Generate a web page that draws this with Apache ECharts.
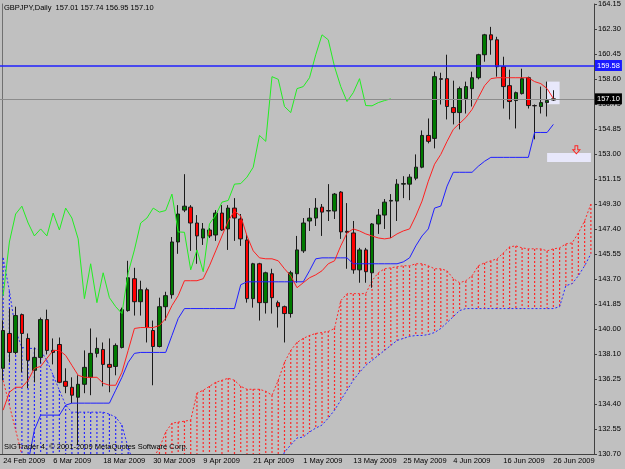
<!DOCTYPE html>
<html>
<head>
<meta charset="utf-8">
<script src="https://cdn.jsdelivr.net/npm/echarts@6/dist/echarts.min.js"></script>
<style>
html, body { margin: 0; padding: 0; background: #c0c0c0; }
#chart { width: 625px; height: 469px; }
</style>
</head>
<body>
<div id="chart"></div>
<script>
// GBPJPY daily, 24 Feb 2009 - 26 Jun 2009 (+6 empty days for the shifted kumo)
var symbolName = "GBPJPY,Daily";
var months = [
  ["Feb", [24, 25, 26, 27]],
  ["Mar", [2, 3, 4, 5, 6, 9, 10, 11, 12, 13, 16, 17, 18, 19, 20, 23, 24, 25, 26, 27, 30, 31]],
  ["Apr", [1, 2, 3, 6, 7, 8, 9, 10, 13, 14, 15, 16, 17, 20, 21, 22, 23, 24, 27, 28, 29, 30]],
  ["May", [1, 4, 5, 6, 7, 8, 11, 12, 13, 14, 15, 18, 19, 20, 21, 22, 25, 26, 27, 28, 29]],
  ["Jun", [1, 2, 3, 4, 5, 8, 9, 10, 11, 12, 15, 16, 17, 18, 19, 22, 23, 24, 25, 26, 29, 30]],
  ["Jul", [1, 2, 3, 6]]
];
var dates = [];
months.forEach(function (m) {
  m[1].forEach(function (d) { dates.push(d + " " + m[0] + " 2009"); });
});

var opens = [137.07, 139.66, 138.25, 141.06, 139.29, 136.92, 137.88, 140.69, 138.40, 138.84,
  136.10, 135.66, 134.92, 135.88, 136.40, 138.18, 138.47, 137.36, 137.21, 138.62,
  141.36, 143.73, 142.02, 142.91, 139.88, 138.69, 141.65, 142.54, 146.46, 148.83,
  149.05, 147.87, 146.76, 147.35, 146.98, 148.61, 147.43, 148.98, 148.17, 146.61,
  142.25, 144.84, 141.95, 144.10, 141.95, 141.65, 141.14, 144.10, 145.80, 148.02,
  148.24, 149.05, 148.76, 148.76, 150.17, 147.25, 147.13, 144.39, 145.87, 144.17,
  147.80, 148.46, 149.50, 149.50, 150.76, 150.76, 151.20, 152.02, 154.38, 154.16,
  158.60, 158.60, 156.45, 156.08, 157.12, 157.86, 158.67, 160.38, 161.86, 161.49,
  159.49, 158.08, 156.97, 157.49, 158.67, 156.60, 156.53, 156.82, 157.01];
var closes = [139.88, 138.25, 140.99, 139.66, 137.66, 137.88, 140.69, 138.40, 138.25, 136.03,
  135.73, 135.07, 135.88, 137.14, 138.18, 138.55, 137.36, 137.14, 138.77, 141.43,
  143.80, 142.02, 142.91, 140.10, 138.69, 141.65, 142.47, 146.46, 148.54, 149.12,
  147.87, 146.91, 147.43, 146.91, 148.61, 147.35, 148.98, 148.24, 146.69, 142.25,
  144.84, 141.95, 144.17, 142.32, 141.65, 141.14, 144.17, 145.87, 147.87, 148.24,
  148.98, 148.68, 148.80, 150.02, 147.21, 147.18, 144.39, 145.87, 144.25, 147.80,
  148.46, 149.42, 149.55, 150.76, 150.80, 151.28, 152.02, 154.38, 153.94, 158.75,
  158.55, 156.53, 156.08, 157.86, 158.01, 158.67, 160.38, 161.86, 161.49, 159.49,
  158.01, 156.90, 157.56, 158.60, 156.60, 156.58, 156.82, 156.97, 157.10];
var highs = [140.62, 141.50, 141.65, 141.14, 139.66, 138.62, 140.84, 141.43, 139.29, 139.36,
  137.07, 136.40, 136.55, 138.40, 140.03, 139.36, 138.99, 139.29, 138.92, 141.58,
  145.06, 144.54, 143.58, 143.06, 140.62, 142.32, 142.76, 146.83, 149.20, 151.50,
  149.20, 148.46, 147.87, 147.50, 148.83, 149.20, 149.20, 149.72, 148.54, 147.06,
  144.91, 144.91, 144.25, 144.47, 142.10, 141.73, 144.32, 146.91, 148.24, 148.98,
  149.72, 149.28, 150.76, 150.10, 150.24, 149.35, 148.02, 146.02, 146.02, 147.87,
  148.91, 149.65, 150.02, 151.13, 151.35, 151.50, 152.97, 154.75, 155.64, 159.12,
  159.04, 160.38, 158.45, 158.01, 158.38, 159.12, 160.45, 161.93, 162.45, 161.71,
  160.23, 159.27, 157.64, 159.34, 158.75, 156.68, 158.01, 158.38, 157.74];
var lows = [136.18, 137.51, 138.10, 136.77, 135.59, 136.03, 137.44, 138.10, 137.36, 135.96,
  135.22, 134.48, 131.37, 135.22, 135.07, 137.88, 135.73, 135.29, 136.55, 138.55,
  141.28, 140.99, 140.99, 138.99, 135.81, 138.62, 140.62, 142.25, 145.58, 148.68,
  145.80, 144.84, 146.24, 146.76, 146.54, 147.28, 145.87, 146.54, 146.17, 141.95,
  141.58, 140.62, 141.14, 141.14, 140.10, 138.99, 140.84, 143.43, 145.65, 147.28,
  147.65, 146.91, 148.02, 148.17, 146.69, 144.47, 144.10, 143.43, 143.43, 143.06,
  147.06, 147.43, 146.76, 148.02, 149.72, 149.57, 151.05, 151.94, 153.79, 153.42,
  156.68, 155.57, 155.20, 154.83, 156.01, 156.53, 158.55, 159.86, 160.38, 158.75,
  156.38, 155.57, 154.90, 157.42, 156.38, 154.09, 156.01, 155.79, 156.95];

// Ichimoku lines
var tenkan = [133.96, 135.29, 135.66, 135.66, 136.18, 137.07, 137.21, 137.81, 138.40, 138.40,
  138.03, 137.29, 136.55, 136.40, 136.40, 136.40, 135.96, 135.81, 135.81, 136.77,
  138.40, 140.03, 140.10, 140.10, 140.10, 140.25, 140.77, 141.73, 142.47, 143.58,
  143.58, 143.58, 143.73, 144.69, 145.80, 146.91, 148.02, 148.76, 148.39, 146.91,
  145.80, 145.28, 145.21, 145.21, 145.06, 144.47, 143.95, 143.06, 143.43, 143.80,
  144.02, 144.32, 144.84, 145.06, 146.17, 147.13, 147.43, 147.28, 147.06, 146.91,
  146.76, 146.69, 146.76, 147.06, 147.28, 147.43, 148.39, 149.50, 150.98, 152.24,
  152.97, 153.94, 154.83, 155.27, 155.71, 156.31, 157.19, 158.08, 158.60, 158.67,
  158.67, 158.67, 158.67, 158.67, 158.67, 158.38, 158.23, 157.86, 157.12];
var kijun = [130.10, 130.10, 130.10, 130.10, 130.10, 132.48, 133.59, 133.59, 133.59, 133.59,
  134.33, 134.48, 134.48, 134.48, 134.48, 134.48, 134.48, 134.48, 135.44, 136.40,
  137.51, 138.18, 138.25, 138.25, 138.25, 138.25, 138.25, 139.51, 140.77, 141.51,
  141.51, 141.51, 141.51, 141.51, 141.51, 141.51, 141.51, 141.51, 143.28, 143.50,
  143.50, 143.50, 143.50, 143.50, 143.50, 143.50, 143.50, 143.50, 143.50, 144.32,
  145.21, 145.28, 145.28, 145.28, 145.28, 145.28, 144.84, 144.84, 144.84, 144.84,
  144.84, 144.84, 144.84, 144.84, 144.98, 145.28, 146.17, 146.91, 147.43, 148.98,
  149.13, 150.61, 151.64, 151.64, 151.64, 151.64, 152.09, 152.46, 152.75, 152.75,
  152.75, 152.75, 152.75, 152.75, 152.75, 154.60, 154.60, 154.60, 155.20];
var spanA = [136.18, 134.33, 132.48, 130.63, 129.50, 129.50, 129.50, 129.50, 129.50, 129.50,
  129.50, 129.50, 129.50, 129.50, 129.50, 129.50, 129.50, 129.50, 129.50, 129.50,
  129.50, 129.50, 129.80, 130.10, 130.40, 131.15, 132.33, 132.99, 133.07, 133.14,
  133.22, 135.22, 135.44, 135.73, 136.03, 136.18, 136.33, 136.18, 135.73, 135.51,
  135.51, 135.51, 135.36, 135.07, 136.18, 137.51, 138.40, 138.99, 139.29, 139.51,
  139.66, 139.73, 139.81, 140.03, 142.10, 142.62, 142.62, 142.62, 142.62, 143.58,
  144.17, 144.47, 144.54, 144.62, 144.69, 144.69, 144.84, 144.84, 144.69, 144.47,
  144.47, 144.32, 143.73, 143.43, 143.58, 143.95, 144.69, 144.91, 145.06, 145.21,
  145.65, 146.10, 146.17, 146.02, 145.95, 145.95, 145.95, 145.80, 145.95, 146.02,
  146.32, 146.39, 147.13, 148.02, 149.28];
var spanB = [145.28, 142.84, 139.88, 138.62, 138.55, 138.55, 138.40, 137.66, 136.55, 135.44,
  134.33, 133.81, 133.81, 133.81, 133.81, 133.81, 133.81, 133.66, 133.44, 132.85,
  131.15, 129.90, 129.50, 129.50, 129.50, 129.50, 129.50, 129.50, 129.50, 129.50,
  129.50, 129.50, 129.50, 129.50, 129.50, 129.50, 129.50, 129.50, 129.50, 129.50,
  129.50, 129.50, 129.50, 129.50, 129.50, 130.85, 131.37, 131.89, 131.96, 132.33,
  132.63, 132.85, 133.37, 133.96, 134.70, 135.44, 136.18, 136.77, 137.29, 137.66,
  138.03, 138.40, 138.77, 139.14, 139.29, 139.44, 139.51, 139.51, 139.58, 139.73,
  140.03, 140.47, 140.91, 141.36, 141.51, 141.51, 141.51, 141.51, 141.51, 141.51,
  141.51, 141.51, 141.51, 141.51, 141.51, 141.51, 141.51, 141.51, 141.51, 141.65,
  143.21, 143.36, 143.95, 144.69, 145.58];
// chikou span = close plotted 26 bars back
var chikou = closes.slice(26);

var yTickLabels = ["130.70", "132.55", "134.40", "136.25", "138.10", "140.00", "141.85",
  "143.70", "145.55", "147.40", "149.30", "151.15", "153.00", "154.85", "156.75",
  "158.60", "160.45", "162.30", "164.15"];
var hLevel = 159.58;
var last = closes.length - 1;
var boxSmall = [158.38, 156.70];
var boxLong = [153.07, 152.40];
var arrowLevel = 153.31;

var font = "Liberation Sans";
var fs = 7.5;
var kumoUp = "#ff2828";
var kumoDown = "#2828ff";

var chart = echarts.init(document.getElementById("chart"));
var option = {
  animation: false,
  backgroundColor: "#c0c0c0",
  textStyle: { fontFamily: font },
  title: [
    {
      text: symbolName + "  " + [opens[last], highs[last], lows[last], closes[last]].map(function (v) { return v.toFixed(2); }).join(" "),
      left: 4, top: 4, padding: 0,
      textStyle: { fontSize: fs, fontWeight: "normal", color: "#000", fontFamily: font }
    },
    {
      text: "SIGTrader 4, \u00a9 2001-2009 MetaQuotes Software Corp.",
      left: 4, top: 443, padding: 0,
      textStyle: { fontSize: fs, fontWeight: "normal", color: "#000", fontFamily: font }
    }
  ],
  grid: { left: 0, right: 31, top: 2, bottom: 15 },
  xAxis: {
    type: "category",
    data: dates,
    boundaryGap: true,
    axisLine: { onZero: false, lineStyle: { color: "#404040" } },
    axisTick: { interval: 7, alignWithLabel: true, length: 3, lineStyle: { color: "#404040" } },
    axisLabel: { interval: 7, align: "left", margin: 3, fontSize: fs, color: "#000", fontFamily: font },
    splitLine: { show: false }
  },
  yAxis: [
    {
      type: "value", min: 130.70, max: 164.15, position: "left", offset: -2,
      axisLine: { show: true, lineStyle: { color: "#707070" } },
      axisTick: { show: false }, axisLabel: { show: false }, splitLine: { show: false }
    },
    {
      type: "category", data: yTickLabels, boundaryGap: false, position: "right",
      axisLine: { show: true, lineStyle: { color: "#404040" } },
      axisTick: { show: true, length: 3, interval: 0, lineStyle: { color: "#404040" } },
      axisLabel: { interval: 0, margin: 4, fontSize: fs, color: "#000", fontFamily: font },
      splitLine: { show: false }
    }
  ],
  series: [
    {
      // kumo hatching: a dotted vertical stroke between span A and span B on every day
      type: "custom",
      silent: true,
      z: 1,
      encode: { x: 0, y: [1, 2] },
      data: spanA.map(function (a, i) { return [i, a, spanB[i]]; }),
      renderItem: function (params, api) {
        var a = api.value(1), b = api.value(2);
        var pa = api.coord([api.value(0), a]);
        var pb = api.coord([api.value(0), b]);
        var cs = params.coordSys;
        var top = cs.y, bottom = cs.y + cs.height;
        var y1 = Math.max(top, Math.min(bottom, Math.min(pa[1], pb[1])));
        var y2 = Math.max(top, Math.min(bottom, Math.max(pa[1], pb[1])));
        if (y2 - y1 < 1) return null;
        var col = a >= b ? kumoUp : kumoDown;
        var dots = [];
        for (var y = Math.round(y1); y < y2; y += 4) {
          dots.push({
            type: "rect",
            shape: { x: pa[0] - 0.6, y: y, width: 1.2, height: Math.min(2, y2 - y) },
            style: { fill: col }
          });
        }
        return { type: "group", children: dots };
      }
    },
    {
      type: "line", data: spanA, symbol: "none", z: 2, silent: true,
      lineStyle: { color: kumoUp, width: 1, type: [2, 2] }
    },
    {
      type: "line", data: spanB, symbol: "none", z: 2, silent: true,
      lineStyle: { color: kumoDown, width: 1, type: [2, 2] }
    },
    {
      type: "candlestick",
      z: 3,
      barWidth: 4,
      data: opens.map(function (o, i) { return [o, closes[i], lows[i], highs[i]]; }),
      itemStyle: {
        color: "#007a00", color0: "#ff0000",
        borderColor: "#1a1a1a", borderColor0: "#1a1a1a", borderColorDoji: "#1a1a1a",
        borderWidth: 1
      },
      markArea: {
        silent: true,
        itemStyle: { color: "#e8e8fb" },
        data: [
          [{ coord: [dates[87], boxSmall[0]] }, { coord: [dates[89], boxSmall[1]] }],
          [{ coord: [dates[87], boxLong[0]] }, { coord: [dates[94], boxLong[1]] }]
        ]
      },
      markLine: {
        silent: true,
        symbol: ["none", "none"],
        lineStyle: { color: "#8c8c8c", width: 1, type: "solid" },
        data: [
          {
            yAxis: closes[last],
            label: {
              show: true, position: "end", distance: 1, formatter: closes[last].toFixed(2),
              color: "#fff", backgroundColor: "#000", padding: [2, 2, 1, 2], fontSize: fs, fontFamily: font
            }
          }
        ]
      },
      markPoint: {
        silent: true,
        data: [
          {
            coord: [dates[92], arrowLevel],
            symbol: "path://M3,0 L7,0 L7,5 L10,5 L5,10 L0,5 L3,5 Z",
            symbolSize: [7, 8],
            symbolOffset: [-2, 0],
            itemStyle: { color: "#c8c8c8", borderColor: "#ff2020", borderWidth: 1 },
            label: { show: false }
          }
        ]
      }
    },
    {
      type: "line", data: kijun, symbol: "none", z: 4, silent: true,
      lineStyle: { color: "#1f1fff", width: 1 },
      markLine: {
        silent: true,
        symbol: ["none", "none"],
        lineStyle: { color: "#2020ff", width: 1.6, type: "solid" },
        data: [
          {
            yAxis: hLevel,
            label: {
              show: true, position: "end", distance: 1, formatter: hLevel.toFixed(2),
              color: "#fff", backgroundColor: "#1a1aff", padding: [2, 2, 1, 2], fontSize: fs, fontFamily: font
            }
          }
        ]
      }
    },
    {
      type: "line", data: tenkan, symbol: "none", z: 4, silent: true,
      lineStyle: { color: "#ff2020", width: 1 }
    },
    {
      type: "line", data: chikou, symbol: "none", z: 4, silent: true,
      lineStyle: { color: "#22ee22", width: 1 }
    }
  ]
};
chart.setOption(option);
window.addEventListener("resize", function () { chart.resize(); });
</script>
</body>
</html>
